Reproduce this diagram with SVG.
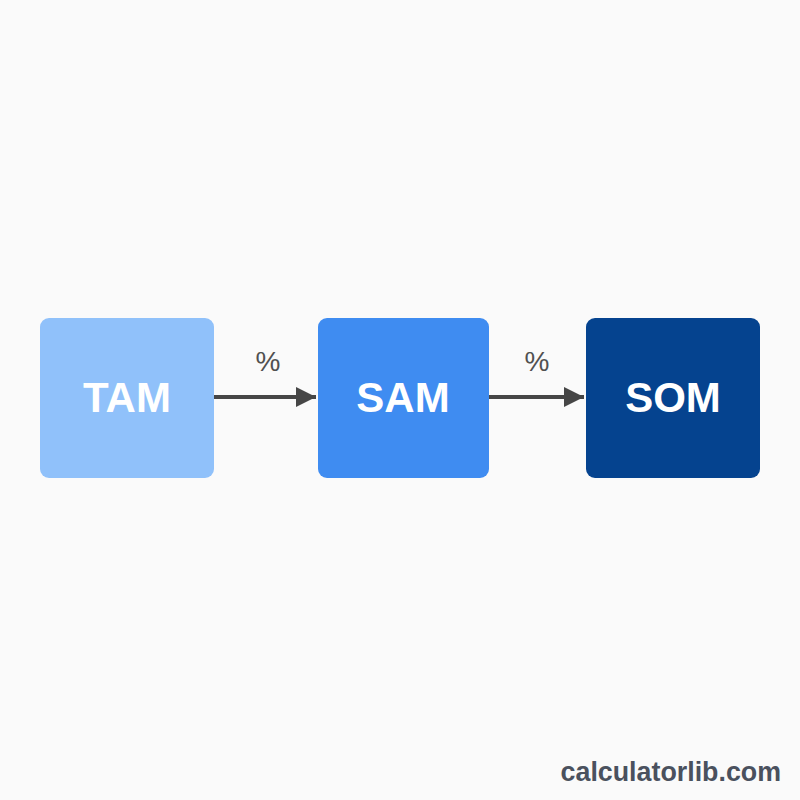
<svg xmlns="http://www.w3.org/2000/svg" width="800" height="800" viewBox="0 0 800 800">
<style>
.box-label{font-family:"Liberation Sans",Arial,sans-serif;font-weight:bold;font-size:42px;fill:#ffffff;text-anchor:middle}
.pct{font-family:"Liberation Sans",Arial,sans-serif;font-size:28px;fill:#505050;text-anchor:middle}
.conn{stroke:#464646;stroke-width:4;fill:none}
.footer{font-family:"Liberation Sans",Arial,sans-serif;font-weight:bold;font-size:26.8px;fill:#4a515e;text-anchor:end}
</style>
<defs>
<marker id="arrow" viewBox="0 0 10 10" refX="10" refY="5" markerWidth="5" markerHeight="5" orient="auto" markerUnits="strokeWidth">
<path d="M0,0 L10,5 L0,10 Z" fill="#464646"/>
</marker>
</defs>
<rect width="800" height="800" fill="#fafafa"/>
<g id="tam">
<rect x="40" y="318" width="174" height="160" rx="9" fill="#90c1fa"/>
<text class="box-label" x="127" y="412">TAM</text>
</g>
<g id="sam">
<rect x="318" y="318" width="171" height="160" rx="9" fill="#3f8cf1"/>
<text class="box-label" x="403" y="412">SAM</text>
</g>
<g id="som">
<rect x="586" y="318" width="174" height="160" rx="9" fill="#05438f"/>
<text class="box-label" x="673" y="412">SOM</text>
</g>
<g id="connectors">
<line class="conn" x1="214" y1="397" x2="316" y2="397" marker-end="url(#arrow)"/>
<line class="conn" x1="489" y1="397" x2="584" y2="397" marker-end="url(#arrow)"/>
<text class="pct" x="268" y="371">%</text>
<text class="pct" x="537" y="371">%</text>
</g>
<text class="footer" x="781" y="781">calculatorlib.com</text>
</svg>
